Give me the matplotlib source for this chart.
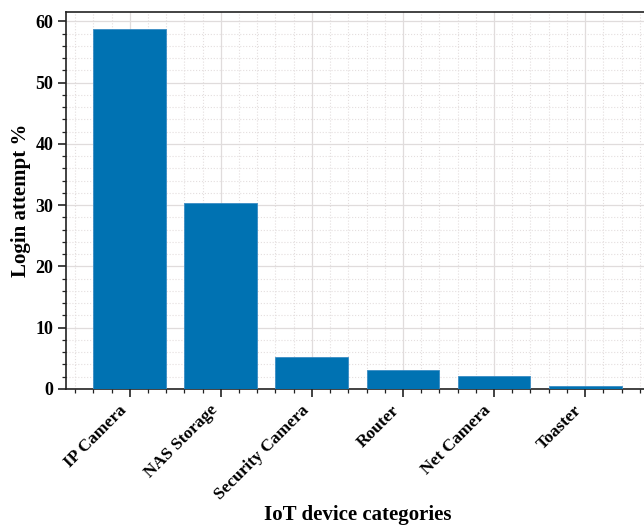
import matplotlib
matplotlib.use("Agg")
import matplotlib.pyplot as plt
from matplotlib.ticker import MultipleLocator

categories = ["IP Camera", "NAS Storage", "Security Camera", "Router", "Net Camera", "Toaster"]
values = [58.8, 30.3, 5.2, 3.1, 2.1, 0.5]

plt.rcParams['font.family'] = ['Liberation Serif', 'DejaVu Serif']
plt.rcParams['font.weight'] = 'bold'

fig = plt.figure(figsize=(6.44, 5.27), dpi=100)
ax = fig.add_axes([0.1025, 0.262, 0.905, 0.715])

x = list(range(len(categories)))
ax.bar(x, values, width=0.8, color="#0072B2", zorder=3, edgecolor="#3a8cc4", linewidth=0.6)

ax.set_xlim(-0.7, 5.7)
ax.set_ylim(0, 61.5)
ax.set_xticks(x)
ax.set_xticklabels(categories, rotation=45, ha='right', fontsize=12.5, fontweight='bold')
ax.xaxis.set_minor_locator(MultipleLocator(0.2))
ax.yaxis.set_major_locator(MultipleLocator(10))
ax.yaxis.set_minor_locator(MultipleLocator(2))
for lab in ax.get_yticklabels():
    lab.set_fontweight('bold')
ax.tick_params(axis='y', labelsize=13, pad=3)
ax.tick_params(which='major', direction='out', length=6, width=1.2, color='#222222')
ax.tick_params(which='minor', direction='out', length=3, width=0.9, color='#222222')

ax.grid(which='major', color='#e0dcdc', linewidth=0.9, zorder=0)
ax.grid(which='minor', color='#e4dede', linewidth=0.8, linestyle=':', zorder=0)
ax.set_axisbelow(True)
for s in ax.spines.values():
    s.set_color('#222222')
    s.set_linewidth(1.2)

ax.set_xlabel("IoT device categories", fontsize=15, fontweight='bold', va='center')
ax.xaxis.set_label_coords(0.5, -0.334)
ax.set_ylabel("Login attempt %", fontsize=15, fontweight='bold', va='center')
ax.yaxis.set_label_coords(-0.078, 0.5)

fig.savefig("out.png", dpi=100)
